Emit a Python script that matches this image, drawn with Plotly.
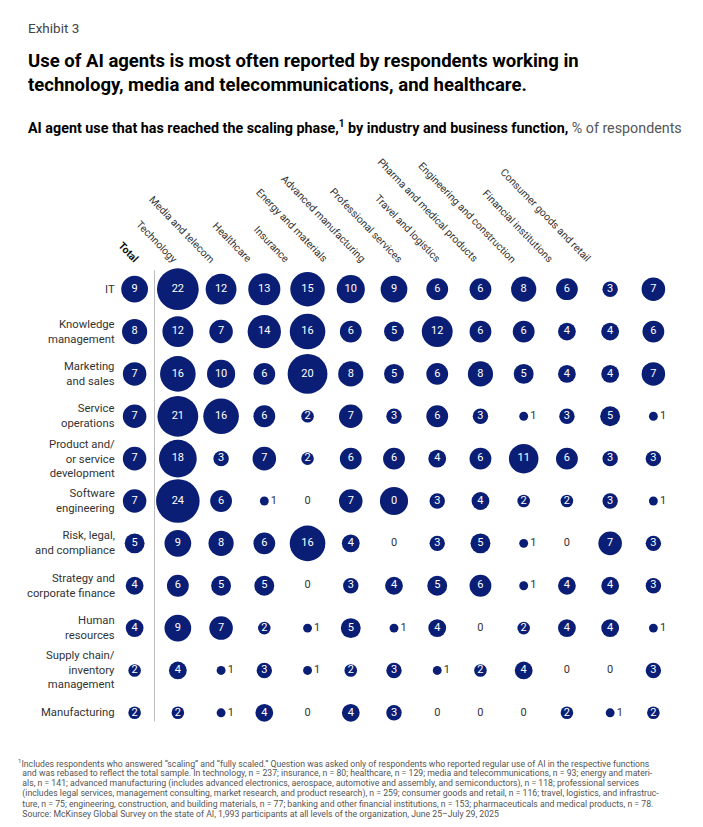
import plotly.graph_objects as go
import math

columns = ["<b>Total</b>", "Technology", "Media and telecom", "Healthcare", "Insurance",
           "Energy and materials", "Advanced manufacturing", "Professional services",
           "Travel and logistics", "Pharma and medical products",
           "Engineering and construction", "Financial institutions", "Consumer goods and retail"]

rows = ["IT", "Knowledge<br>management", "Marketing<br>and sales", "Service<br>operations",
        "Product and/<br>or service<br>development", "Software<br>engineering",
        "Risk, legal,<br>and compliance", "Strategy and<br>corporate finance",
        "Human<br>resources", "Supply chain/<br>inventory<br>management", "Manufacturing"]

it_vals = [9, 22, 12, 13, 15, 10, 9, 6, 6, 8, 6, 3, 7]
knowledge_vals = [8, 12, 7, 14, 16, 6, 5, 12, 6, 6, 4, 4, 6]
marketing_vals = [7, 16, 10, 6, 20, 8, 5, 6, 8, 5, 4, 4, 7]
service_vals = [7, 21, 16, 6, 2, 7, 3, 6, 3, 1, 3, 5, 1]
product_vals = [7, 18, 3, 7, 2, 6, 6, 4, 6, 11, 6, 3, 3]
software_vals = [7, 24, 6, 1, 0, 7, 10, 3, 4, 2, 2, 3, 1]
risk_vals = [5, 9, 8, 6, 16, 4, 0, 3, 5, 1, 0, 7, 3]
strategy_vals = [4, 6, 5, 5, 0, 3, 4, 5, 6, 1, 4, 4, 3]
hr_vals = [4, 9, 7, 2, 1, 5, 1, 4, 0, 2, 4, 4, 1]
supply_vals = [2, 4, 1, 3, 1, 2, 3, 1, 2, 4, 0, 0, 3]
manufacturing_vals = [2, 2, 1, 4, 0, 4, 3, 0, 0, 0, 2, 1, 2]

# label shown in the reference where it differs from the value (cell: row, col)
label_overrides = {(5, 6): "0"}

matrix = [it_vals, knowledge_vals, marketing_vals, service_vals, product_vals, software_vals,
          risk_vals, strategy_vals, hr_vals, supply_vals, manufacturing_vals]

footnote_lines = [
    "<sup>1</sup>Includes respondents who answered \u201cscaling\u201d and \u201cfully scaled.\u201d Question was asked only of respondents who reported regular use of AI in the respective functions",
    "  and was rebased to reflect the total sample. In technology, n = 237; insurance, n = 80; healthcare, n = 129; media and telecommunications, n = 93; energy and materi-",
    "  als, n = 141; advanced manufacturing (includes advanced electronics, aerospace, automotive and assembly, and semiconductors), n = 118; professional services",
    "  (includes legal services, management consulting, market research, and product research), n = 259; consumer goods and retail, n = 116; travel, logistics, and infrastruc-",
    "  ture, n = 75; engineering, construction, and building materials, n = 77; banking and other financial institutions, n = 153; pharmaceuticals and medical products, n = 78.",
    "  Source: McKinsey Global Survey on the state of AI, 1,993 participants at all levels of the organization, June 25\u2013July 29, 2025",
]

NAVY = "#0a1e76"
GRAY = "#333333"
FONT = "Roboto, Arial, sans-serif"

big_x, big_y, big_s, big_t = [], [], [], []
one_x, one_y, one_s = [], [], []
zero_x, zero_y = [], []
for r, vals in enumerate(matrix):
    for c, v in enumerate(vals):
        lab = label_overrides.get((r, c), str(v))
        if v >= 2:
            big_x.append(c); big_y.append(r); big_s.append(8.9 * math.sqrt(v)); big_t.append(lab)
        elif v == 1:
            one_x.append(c); one_y.append(r); one_s.append(8.9)
        else:
            zero_x.append(c); zero_y.append(r)

fig = go.Figure()
fig.add_trace(go.Scatter(
    x=big_x, y=big_y, mode="markers+text", text=big_t, textposition="middle center",
    marker=dict(size=big_s, sizemode="diameter", color=NAVY, opacity=1, line=dict(width=0)),
    textfont=dict(color="white", size=11, family=FONT), hoverinfo="skip", showlegend=False))
fig.add_trace(go.Scatter(
    x=one_x, y=one_y, mode="markers+text", text=["1"] * len(one_x), textposition="middle right",
    marker=dict(size=one_s, sizemode="diameter", color=NAVY, opacity=1, line=dict(width=0)),
    textfont=dict(color=GRAY, size=11, family=FONT), hoverinfo="skip", showlegend=False))
fig.add_trace(go.Scatter(
    x=zero_x, y=zero_y, mode="text", text=["0"] * len(zero_x), textposition="middle center",
    textfont=dict(color=GRAY, size=11, family=FONT), hoverinfo="skip", showlegend=False))

# separator line between Total and industries
fig.add_shape(type="line", x0=0.46, x1=0.46, y0=-0.45, y1=10.2, xref="x", yref="y",
              line=dict(color="#bbbbbb", width=1))

# page has an 8px body margin: figure coordinates = page coordinates - 8
OFF = 8
W, H = 695, 819
ml = 113.4 - OFF
mt = 267.8 - OFF
mr = W - (674.6 - OFF)
mb = H - (734.2 - OFF)

for r, name in enumerate(rows):
    fig.add_annotation(x=-0.5, y=r, xref="x", yref="y", text=name, showarrow=False,
                       xanchor="right", yanchor="middle", align="right", xshift=4,
                       font=dict(size=11.3, color=GRAY, family=FONT))
for c, name in enumerate(columns):
    fig.add_annotation(x=c, y=-0.5, xref="x", yref="y", text=name, showarrow=False,
                       textangle=46, xanchor="right", yanchor="bottom",
                       xshift=10 - 5.55 * c, yshift=0,
                       font=dict(size=10.4, color="#111111" if c == 0 else GRAY, family=FONT))


def paper(px, py):
    fx, fy = px - OFF, py - OFF
    return (fx - ml) / (W - ml - mr), 1 - (fy - mt) / (H - mt - mb)


def add_text(text, px, py, size, color):
    x, y = paper(px, py)
    fig.add_annotation(text=text, x=x, y=y, xref="paper", yref="paper", xanchor="left",
                       yanchor="middle", align="left", showarrow=False,
                       font=dict(size=size, color=color, family=FONT))


add_text("Exhibit 3", 27, 28, 13.5, "#444444")
add_text("<b>Use of AI agents is most often reported by respondents working in<br>"
         "technology, media and telecommunications, and healthcare.</b>", 27, 73, 18.5, "#000000")
add_text("<b>AI agent use that has reached the scaling phase,<sup>1</sup> by industry and business function,</b>"
         " <span style='color:#555555'>% of respondents</span>", 27, 127, 14.3, "#000000")

for i, line in enumerate(footnote_lines):
    add_text(line, 17, 763 + 10.2 * i, 8.7, "#555555")

fig.update_xaxes(range=[-0.5, 12.5], visible=False, fixedrange=True)
fig.update_yaxes(range=[10.5, -0.5], visible=False, fixedrange=True)
fig.update_layout(width=W, height=H, margin=dict(l=ml, r=mr, t=mt, b=mb),
                  plot_bgcolor="white", paper_bgcolor="white", font=dict(family=FONT))

fig.write_html("out.html")
